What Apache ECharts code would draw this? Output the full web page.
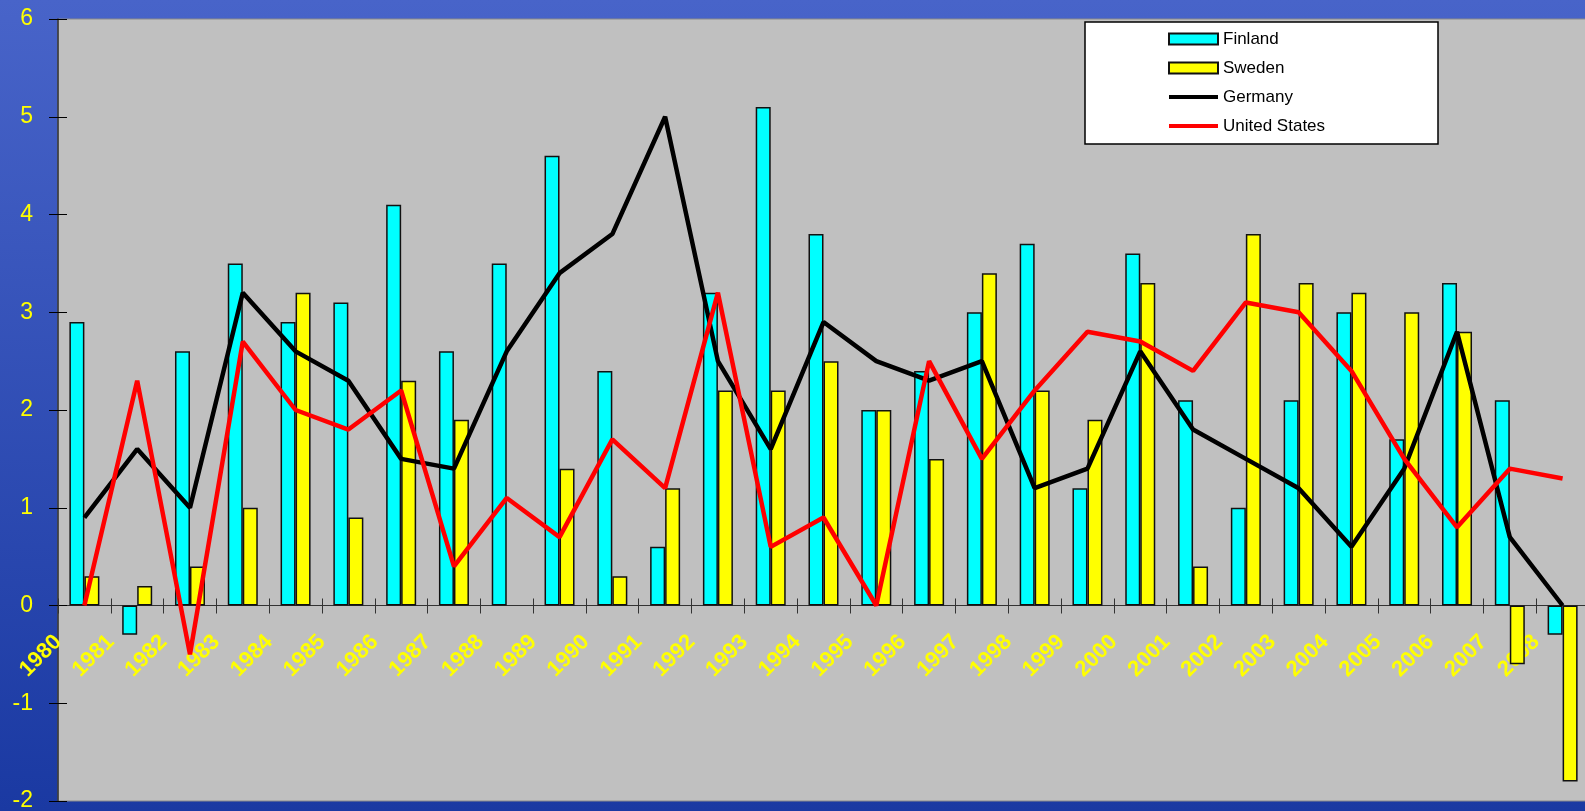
<!DOCTYPE html>
<html>
<head>
<meta charset="utf-8">
<script src="https://cdn.jsdelivr.net/npm/echarts@6/dist/echarts.min.js"></script>
<style>
html,body{margin:0;padding:0;width:1585px;height:811px;overflow:hidden;}
#chart{width:1585px;height:811px;}
</style>
</head>
<body>
<div id="chart"></div>
<script>
const years = ['1980','1981','1982','1983','1984','1985','1986','1987','1988','1989','1990','1991','1992','1993','1994','1995','1996','1997','1998','1999','2000','2001','2002','2003','2004','2005','2006','2007','2008'];
const finland = [2.9,-0.3,2.6,3.5,2.9,3.1,4.1,2.6,3.5,4.6,2.4,0.6,3.2,5.1,3.8,2.0,2.4,3.0,3.7,1.2,3.6,2.1,1.0,2.1,3.0,1.7,3.3,2.1,-0.3];
const sweden = [0.3,0.2,0.4,1.0,3.2,0.9,2.3,1.9,null,1.4,0.3,1.2,2.2,2.2,2.5,2.0,1.5,3.4,2.2,1.9,3.3,0.4,3.8,3.3,3.2,3.0,2.8,-0.6,-1.8];
const germany = [0.9,1.6,1.0,3.2,2.6,2.3,1.5,1.4,2.6,3.4,3.8,5.0,2.5,1.6,2.9,2.5,2.3,2.5,1.2,1.4,2.6,1.8,1.5,1.2,0.6,1.4,2.8,0.7,0.0];
const unitedStates = [0.0,2.3,-0.5,2.7,2.0,1.8,2.2,0.4,1.1,0.7,1.7,1.2,3.2,0.6,0.9,0.0,2.5,1.5,2.2,2.8,2.7,2.4,3.1,3.0,2.4,1.5,0.8,1.4,1.3];
const seriesNames = ['Finland','Sweden','Germany','United States'];
const yMin = -2, yMax = 6, yStep = 1;

const chart = echarts.init(document.getElementById('chart'), null, {renderer:'canvas'});
const labelYears = years.concat(['']);
const gLeft = 58, gTop = 19, gWidth = 1531, gHeight = 782;
const zeroOffset = gHeight * (yMax - 0) / (yMax - yMin);
const lineIcon = 'path://M0,0H49V0.02H0Z M0,3.5H49V7.5H0Z M0,10.98H49V11H0Z';
const option = {
  animation: false,
  backgroundColor: {type:'linear', x:0, y:0, x2:0, y2:1, colorStops:[{offset:0,color:'#4864C9'},{offset:1,color:'#1A39A2'}]},
  grid: [
    {left:gLeft, top:gTop, width:gWidth, height:gHeight, show:true, backgroundColor:'#c0c0c0', borderColor:'#8a8a8a', borderWidth:1, outerBoundsMode:'none', containLabel:false},
    {left:gLeft, top:gTop, width:gWidth, height:zeroOffset, show:false, outerBoundsMode:'none', containLabel:false}
  ],
  graphic: [{type:'rect', z:3, shape:{x:1085, y:22, width:353, height:122}, style:{fill:'#ffffff', stroke:'#000000', lineWidth:1.5}}],
  legend: {
    orient:'vertical', left:1163, top:25, itemWidth:49, itemHeight:11, itemGap:11,
    textStyle:{fontSize:17, color:'#000', fontFamily:'Liberation Sans, Arial, sans-serif', lineHeight:18},
    data:[{name:seriesNames[0], icon:'rect'},{name:seriesNames[1], icon:'rect'},{name:seriesNames[2], icon:lineIcon},{name:seriesNames[3], icon:lineIcon}]
  },
  xAxis: [
    {type:'category', gridIndex:0, data:years, position:'bottom', boundaryGap:true,
     axisLine:{show:true, onZero:true, onZeroAxisIndex:0, lineStyle:{color:'#333', width:1}},
     axisTick:{show:true, length:8, inside:false, lineStyle:{color:'#333'}},
     axisLabel:{show:false}, splitLine:{show:false}},
    {type:'category', gridIndex:1, data:labelYears, position:'bottom', boundaryGap:false,
     axisLine:{show:false, onZero:false},
     axisTick:{show:true, length:7, inside:true, lineStyle:{color:'#333'}},
     axisLabel:{show:true, interval:0, rotate:45, margin:33, color:'#ffff00', fontWeight:'bold', fontSize:22, fontFamily:'Liberation Sans, Arial, sans-serif', hideOverlap:false},
     splitLine:{show:false}}
  ],
  yAxis: [
    {type:'value', gridIndex:0, min:yMin, max:yMax, interval:yStep, position:'left',
     axisLine:{show:true, onZero:false, lineStyle:{color:'#333', width:1.5}},
     axisTick:{show:true, length:9, inside:false, lineStyle:{color:'#000'}},
     axisLabel:{color:'#ffff00', fontSize:23, margin:25, fontFamily:'Liberation Sans, Arial, sans-serif'},
     splitLine:{show:false}},
    {type:'value', gridIndex:0, min:yMin, max:yMax, interval:yStep, position:'left',
     axisLine:{show:false, onZero:false},
     axisTick:{show:true, length:9, inside:true, lineStyle:{color:'#000'}},
     axisLabel:{show:false}, splitLine:{show:false}},
    {type:'value', gridIndex:1, min:0, max:yMax, show:false}
  ],
  series: [
    {name:seriesNames[0], type:'bar', data:finland, barWidth:15, barGap:'0%', itemStyle:{color:'#00ffff', borderColor:'#111', borderWidth:1.5}},
    {name:seriesNames[1], type:'bar', data:sweden, barWidth:15, barGap:'0%', itemStyle:{color:'#ffff00', borderColor:'#111', borderWidth:1.5}},
    {name:seriesNames[2], type:'line', data:germany, symbol:'none', lineStyle:{color:'#000', width:4.5}, itemStyle:{color:'#000'}, z:5},
    {name:seriesNames[3], type:'line', data:unitedStates, symbol:'none', lineStyle:{color:'#ff0000', width:4.5}, itemStyle:{color:'#ff0000'}, z:5}
  ]
};
chart.setOption(option);
</script>
</body>
</html>
